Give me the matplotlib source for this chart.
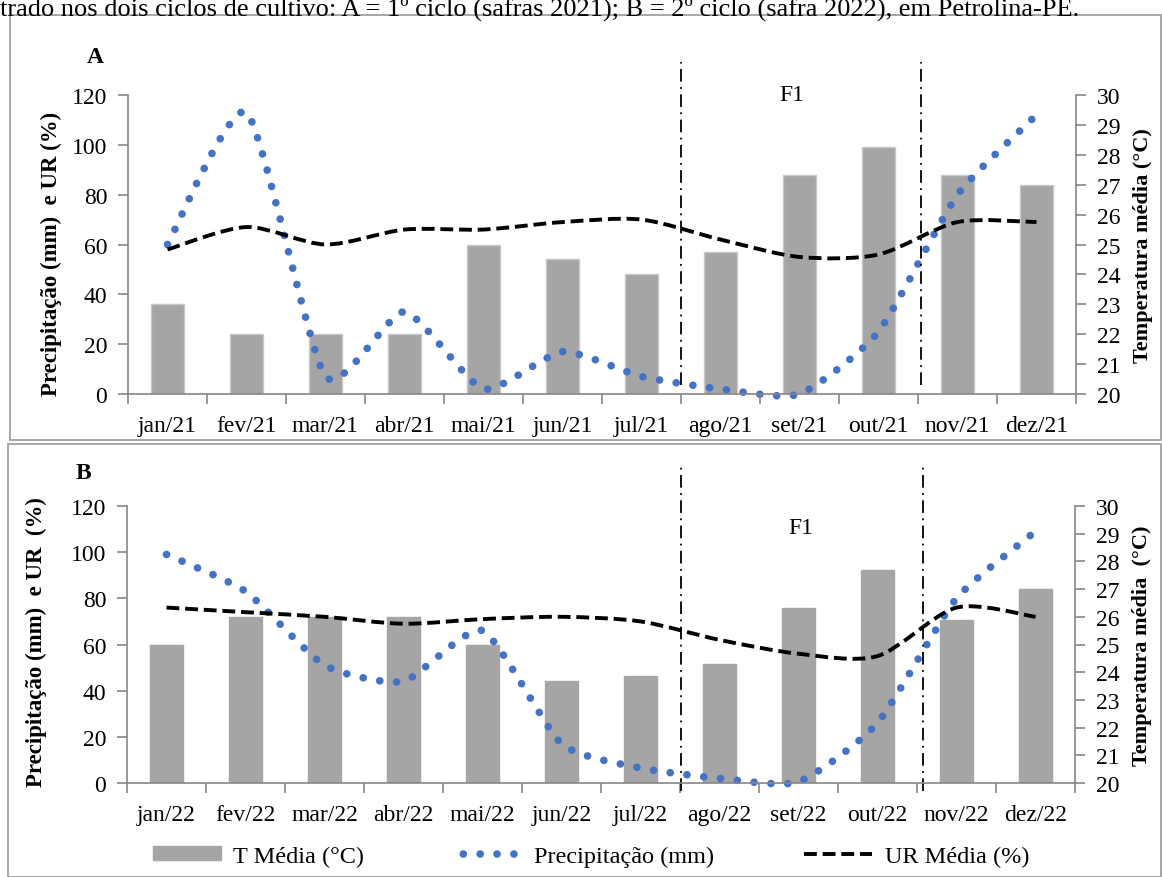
import numpy as np
import matplotlib.pyplot as plt
from matplotlib.path import Path
from matplotlib.patches import PathPatch, Rectangle
from matplotlib.lines import Line2D

plt.rcParams['font.family'] = ['Liberation Serif', 'DejaVu Serif']

meses_21 = ['jan/21', 'fev/21', 'mar/21', 'abr/21', 'mai/21', 'jun/21',
            'jul/21', 'ago/21', 'set/21', 'out/21', 'nov/21', 'dez/21']
meses_22 = ['jan/22', 'fev/22', 'mar/22', 'abr/22', 'mai/22', 'jun/22',
            'jul/22', 'ago/22', 'set/22', 'out/22', 'nov/22', 'dez/22']

# ciclo 1 (2021)
temp_21 = [23.0, 22.0, 22.0, 22.0, 25.0, 24.5, 24.0, 24.75, 27.33, 28.25, 27.33, 27.0]
prec_21 = [60, 113, 7, 33, 2, 17, 7, 2, 0, 25, 80, 112]
ur_21 = [58, 67, 60, 66, 66, 69, 70, 62, 55, 56, 69, 69]

# ciclo 2 (2022)
temp_22 = [25.0, 26.0, 26.0, 26.0, 25.0, 23.7, 23.85, 24.3, 26.3, 27.7, 25.9, 27.0]
prec_22 = [99, 83, 51, 44, 66, 17, 6.5, 2, 0.5, 26, 80, 109]
ur_22 = [76, 74, 72, 69, 71, 72, 70, 62, 56, 55, 76, 72]

# limites da fase F1 (posicao no eixo dos meses)
f1_21 = [6.5, 9.54]
f1_22 = [6.51, 9.57]

CINZA = '#a5a5a5'
AZUL = '#4472c4'
EIXO = '#868686'
FS = 17
PONTOS = (0, (0.01, 2.2))
TRACOS = (0, (3.3, 1.5))


def curva_suave(x, y, k=0.1):
    # linha suavizada: bezier cubica com tangentes tipo Catmull-Rom (tensao k)
    pts = np.column_stack([np.asarray(x, float), np.asarray(y, float)])
    ext = np.vstack([pts[0], pts, pts[-1]])
    verts = [pts[0]]
    codes = [Path.MOVETO]
    for i in range(len(pts) - 1):
        p0, p1, p2, p3 = ext[i], ext[i + 1], ext[i + 2], ext[i + 3]
        verts += [p1 + (p2 - p0) * k, p2 - (p3 - p1) * k, p2]
        codes += [Path.CURVE4] * 3
    return Path(verts, codes)


def painel(fig, rect, meses, temp, prec, ur, f1, f1_y, f1_txt, letra, letra_xy,
           ylab, ylab_xy, tlab, tlab_xy, borda_barra):
    ax = fig.add_axes(rect)
    ax2 = ax.twinx()
    x = np.arange(len(meses))

    ax2.bar(x, np.array(temp) - 20, bottom=20, width=0.41, color=CINZA,
            edgecolor='#c8c8c8' if borda_barra else CINZA, linewidth=1)
    ax2.set_ylim(20, 30)
    ax2.set_yticks(range(20, 31))

    pp = PathPatch(curva_suave(x, prec), fill=False, edgecolor=AZUL, lw=5.5,
                   linestyle=PONTOS, capstyle='round', clip_on=False)
    ax.add_patch(pp)
    pu = PathPatch(curva_suave(x, ur, 0.14), fill=False, edgecolor='black', lw=2.8,
                   linestyle=TRACOS, capstyle='butt')
    ax.add_patch(pu)

    ax.set_zorder(ax2.get_zorder() + 1)
    ax.patch.set_visible(False)

    ax.set_xlim(-0.5, len(meses) - 0.5)
    ax.set_ylim(0, 120)
    ax.set_yticks(range(0, 121, 20))
    ax.set_xticks(np.arange(len(meses) + 1) - 0.5)
    ax.set_xticklabels([])
    ax.set_xticks(x, minor=True)
    ax.set_xticklabels(meses, minor=True)
    ax.tick_params(axis='x', which='minor', length=0, pad=15, labelsize=FS)
    ax.tick_params(axis='x', which='major', length=7, color=EIXO, width=1.2)
    ax.tick_params(axis='y', length=7, color=EIXO, width=1.2, pad=8, labelsize=FS)
    ax2.tick_params(axis='y', length=7, color=EIXO, width=1.2, pad=8, labelsize=FS)

    for a in (ax, ax2):
        a.spines['top'].set_visible(False)
        for s in ('left', 'right', 'bottom'):
            a.spines[s].set_color(EIXO)
            a.spines[s].set_linewidth(1.2)
    ax.spines['right'].set_visible(False)
    ax2.spines['left'].set_visible(False)
    ax2.spines['bottom'].set_visible(False)

    for xv in f1:
        ax.plot([xv, xv], f1_y, color='black', lw=1.3, linestyle=(0, (7, 3, 1, 3)),
                transform=ax.get_xaxis_transform(), clip_on=False)
    ax.text(f1_txt[0], f1_txt[1], 'F1', fontsize=FS, ha='center', va='center')

    ax.text(letra_xy[0], letra_xy[1], letra, transform=ax.transAxes,
            fontsize=FS, fontweight='bold', ha='center', va='center')

    ax.set_ylabel(ylab, fontsize=16.5, fontweight='bold')
    ax.yaxis.set_label_coords(*ylab_xy)
    ax2.set_ylabel(tlab, fontsize=16, fontweight='bold', rotation=90, va='top')
    ax2.yaxis.set_label_coords(*tlab_xy)
    return ax, ax2


fig = plt.figure(figsize=(11.62, 8.78), dpi=100)

fig.text(0.0, 0.9818,
         'trado nos dois ciclos de cultivo: A = 1º ciclo (safras 2021); '
         'B = 2º ciclo (safra 2022), em Petrolina-PE.',
         fontsize=19, ha='left', va='baseline')

W, H = 1162, 878
fig.patches.append(Rectangle((10 / W, 1 - 441 / H), 1151 / W, 425 / H, fill=False,
                             edgecolor='#a0a0a0', lw=1.3, transform=fig.transFigure))
fig.patches.append(Rectangle((8 / W, 0.0), 1153 / W, 1 - 445 / H, fill=False,
                             edgecolor='#a0a0a0', lw=1.3, transform=fig.transFigure))

painel(fig, [128 / W, 1 - 395 / H, 948 / W, 299 / H], meses_21, temp_21, prec_21, ur_21,
       f1_21, [0.03, 1.11], (7.9, 120.4), 'A', (-0.035, 1.13),
       'Precipitação (mm)  e UR (%)', (-0.0696, 0.473),
       'Temperatura média (°C)', (1.060, 0.50), True)

painel(fig, [127 / W, 1 - 784 / H, 948 / W, 277 / H], meses_22, temp_22, prec_22,
       ur_22, f1_22, [-0.029, 1.141], (8.03, 110.5), 'B', (-0.046, 1.12),
       'Precipitação (mm)  e UR  (%)', (-0.0844, 0.514),
       'Temperatura média  (°C)', (1.0598, 0.50), False)

handles = [
    Rectangle((0, 0), 1, 1, facecolor=CINZA, edgecolor=CINZA),
    Line2D([], [], color=AZUL, lw=5.5, linestyle=(1.0, (0.01, 2.2)), dash_capstyle='round'),
    Line2D([], [], color='black', lw=2.8, linestyle=TRACOS),
]
fig.legend(handles, ['T Média (°C)', 'Precipitação (mm)', 'UR Média (%)'],
           loc='center', bbox_to_anchor=(591 / W, 21 / H), ncol=3, frameon=False,
           fontsize=17.5, handlelength=2.8, handleheight=0.5, handletextpad=0.5,
           columnspacing=3.7, borderpad=0.2)

fig.savefig('out.png', dpi=100)
